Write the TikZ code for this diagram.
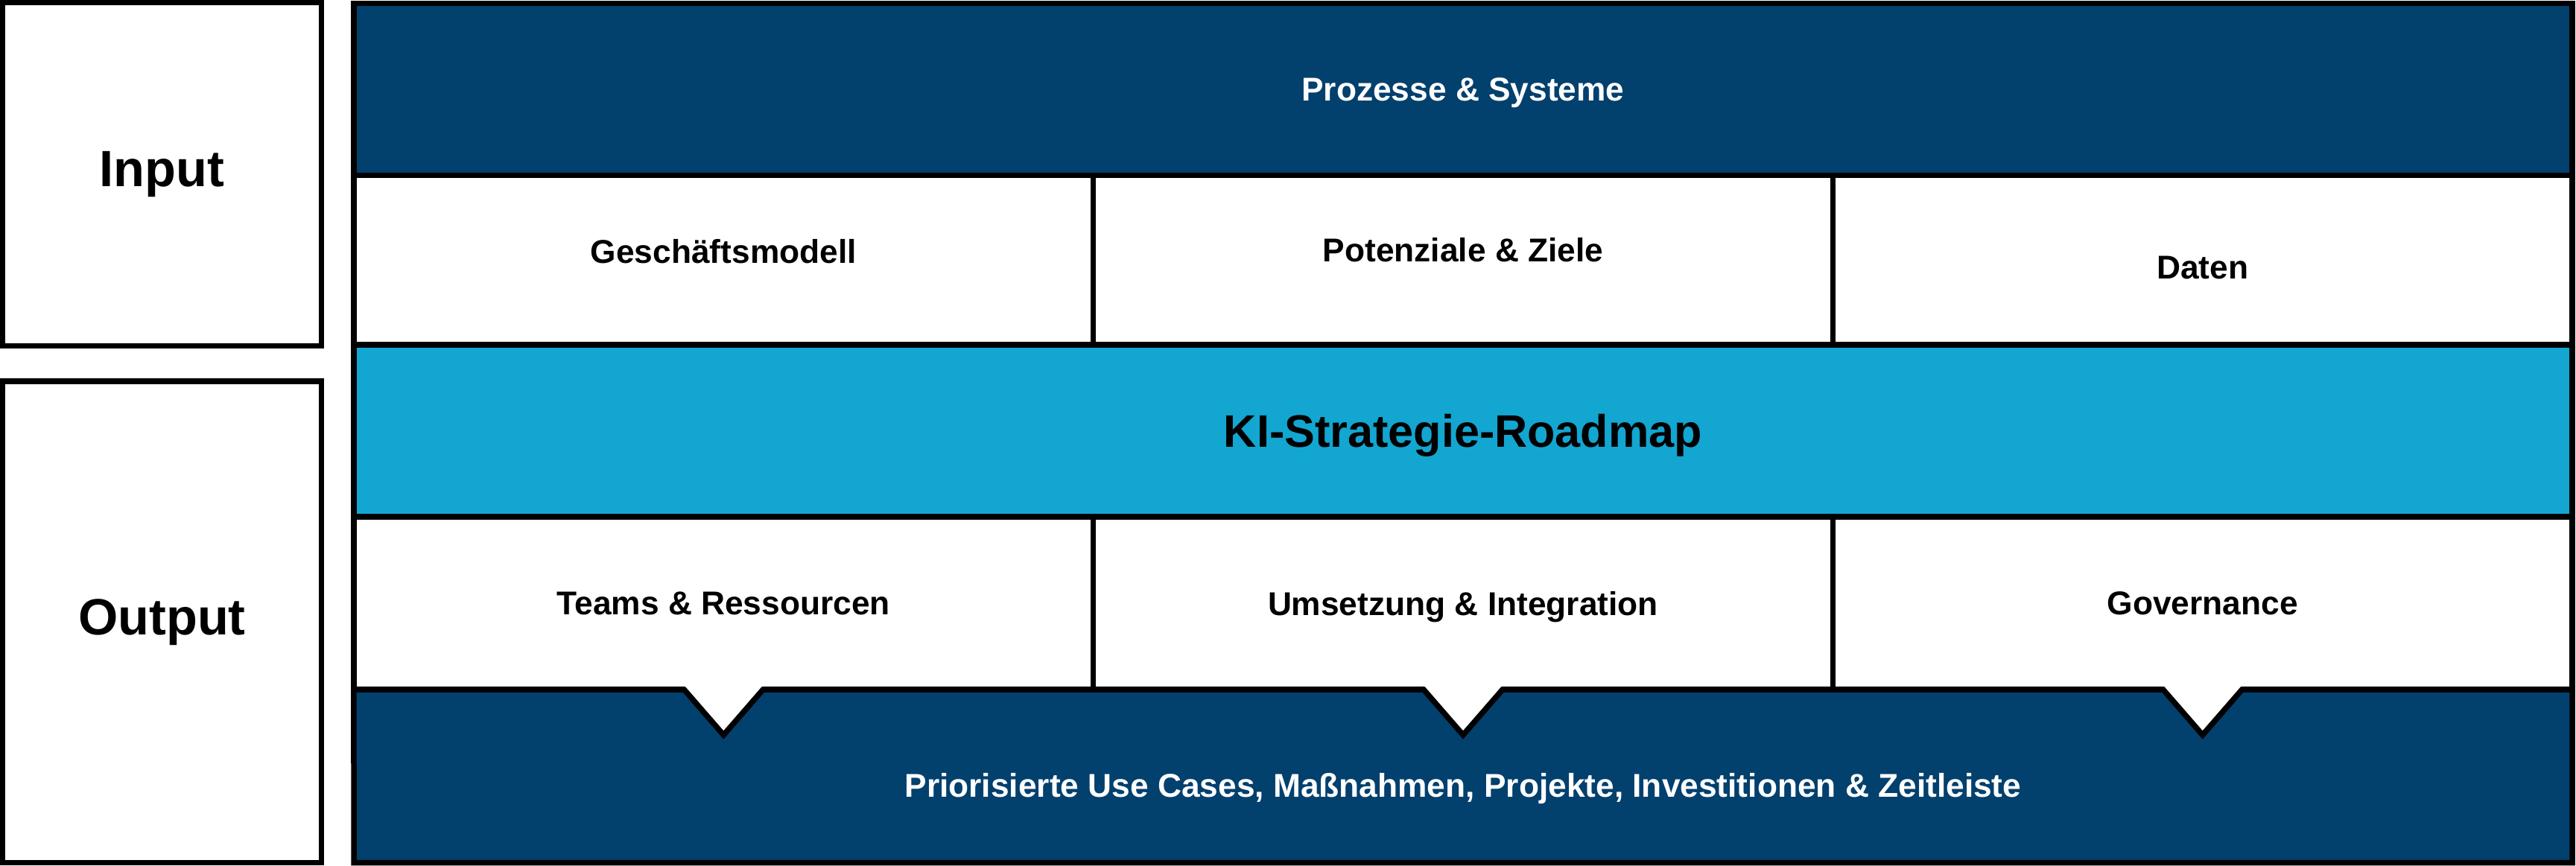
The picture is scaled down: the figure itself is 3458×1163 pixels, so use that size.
\documentclass[tikz,border=0pt]{standalone}
\usepackage{fontspec}
\setmainfont{Liberation Sans}
\usetikzlibrary{positioning}

\definecolor{deepblue}{HTML}{02406E}
\definecolor{skyblue}{HTML}{12A6D1}

\begin{document}
\begin{tikzpicture}
	[x=0.1mm, y=-0.1mm,
	 every node/.style={inner sep=0pt,outer sep=0pt,font=\bfseries\fontsize{12.6}{15}\selectfont},
	 frame/.style={draw,rectangle,black,line width=0.75mm},
	 sidebox/.style={frame,fill=white,minimum width=42.8mm,font=\bfseries\fontsize{19.5}{23}\selectfont},
	 darkrow/.style={frame,fill=deepblue,text=white,minimum width=297.8mm},
	 keyrow/.style={frame,fill=skyblue,minimum width=297.8mm,font=\bfseries\fontsize{17.4}{21}\selectfont},
	 cell/.style={frame,fill=white,minimum width=99.27mm},
	 scale=1 ]

\useasboundingbox (0,0) rectangle (3458,1163);

\node [sidebox,minimum height=46.1mm] (input) at (217.5,234) {Input};
\node [sidebox,minimum height=64.65mm] (output) at (217.5,835.25) {Output};

\node [darkrow,minimum height=23.1mm,text depth=0pt] (prozesse) at (1964,120) {Prozesse \& Systeme};

\node [cell,minimum height=22.75mm,label={[yshift=1.2mm]center:Geschäftsmodell}] (modell) at (971.3,349.25) {};
\node [cell,minimum height=22.75mm,label={[yshift=1.4mm]center:Potenziale \& Ziele}] (ziele) at (1964,349.25) {};
\node [cell,minimum height=22.75mm,label={[yshift=-1mm]center:Daten}] (daten) at (2956.7,349.25) {};

\node [keyrow,minimum height=23.1mm,text depth=0pt] (roadmap) at (1964,578.5) {KI-Strategie-Roadmap};

\node [cell,minimum height=23.2mm] (teams) at (971.3,810) {Teams \& Ressourcen};
\node [cell,minimum height=23.2mm,text depth=0pt] (umsetzung) at (1964,810) {Umsetzung \& Integration};
\node [cell,minimum height=23.2mm] (governance) at (2956.7,810) {Governance};

% bottom band, notched under each cell
\fill[deepblue] (teams.south west)
  \foreach \c in {teams,umsetzung,governance}
    {-- ([xshift=-5.3mm]\c.south) -- ([yshift=-6.1mm]\c.south) -- ([xshift=5.3mm]\c.south)}
  -- (governance.south east) -- ++(0,232.5) -- ++(-2978,0) -- cycle;
\foreach \c in {teams,umsetzung,governance}
  \fill[white] ([xshift=-5.3mm,yshift=0.5mm]\c.south) -- ([xshift=5.3mm,yshift=0.5mm]\c.south)
    -- ([yshift=-6.1mm]\c.south) -- cycle;
\draw[black,line width=0.75mm] (teams.south west)
  \foreach \c in {teams,umsetzung,governance}
    {-- ([xshift=-5.3mm]\c.south) -- ([yshift=-6.1mm]\c.south) -- ([xshift=5.3mm]\c.south)}
  -- (governance.south east) -- ++(0,232.5) -- ++(-2978,0) -- cycle;

\node [text=white] (usecases) at (1964,1059) {Priorisierte Use Cases, Maßnahmen, Projekte, Investitionen \& Zeitleiste};

\end{tikzpicture}
\end{document}
